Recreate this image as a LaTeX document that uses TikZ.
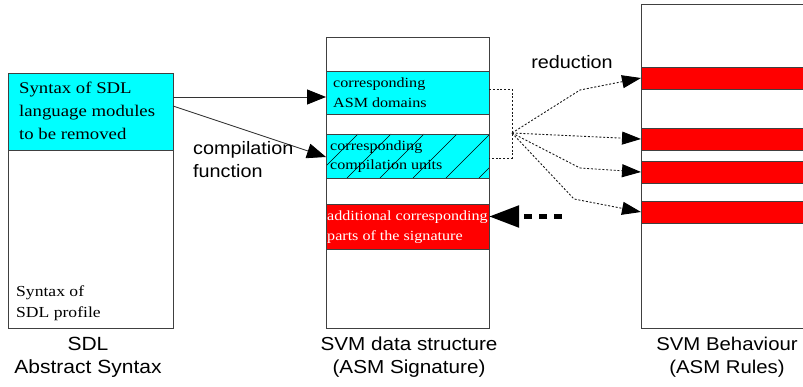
\documentclass[tikz,border=0pt]{standalone}
\usepackage{fontspec}
\setmainfont{Liberation Serif}[FakeStretch=1.15]
\newfontfamily\lblfont{Liberation Sans}[FakeStretch=1.1]
\usetikzlibrary{arrows.meta}
\definecolor{cyanx}{RGB}{0,255,255}
\definecolor{redx}{RGB}{255,0,0}
\begin{document}
\begin{tikzpicture}[x=1pt,y=-1pt,
  box/.style={draw=black!75, line width=0.8pt, inner sep=0pt, outer sep=0pt, anchor=north west},
  cyanbox/.style={box, fill=cyanx},
  redbox/.style={box, fill=redx},
  bigtxt/.style={inner sep=0pt, align=left, anchor=west, font=\fontsize{16.3}{23}\selectfont},
  midtxt/.style={inner sep=0pt, align=left, anchor=west, font=\fontsize{14}{19.5}\selectfont},
  lbl/.style={inner sep=0pt, align=center, font=\lblfont\fontsize{18}{23}\selectfont},
  solidarr/.style={draw=black!80, line width=0.8pt, -{Triangle[length=19pt,width=15pt,color=black,fill=black]}},
  dotline/.style={draw=black!90, line width=0.9pt, dash pattern=on 2pt off 1.8pt},
  dotarr/.style={dotline, -{Triangle[length=19pt,width=13pt,color=black,fill=black]}},
  bigdash/.style={line width=5pt, dash pattern=on 8pt off 7pt, -{Triangle[length=30pt,width=21pt]}}
]
\clip (0,0) rectangle (803,387);
\fill[white] (0,0) rectangle (803,387);

% left column
\node[box, minimum width=165pt, minimum height=255pt] (sdl) at (8,73) {};
\node[cyanbox, minimum width=165pt, minimum height=77pt] (rem) at (8,73) {};
\node[bigtxt] (remtxt) at (19,111) {Syntax of SDL\\language modules\\to be removed};
\node[midtxt, font=\fontsize{15.3}{20.5}\selectfont] (proftxt) at (16,303) {Syntax of\\SDL profile};
\node[lbl, font=\lblfont\fontsize{19.1}{23}\selectfont] (sdllbl) at (88,357.5) {SDL\\Abstract Syntax};

% middle column
\node[box, minimum width=163pt, minimum height=291pt] (svm) at (326,37) {};
\node[cyanbox, minimum width=163pt, minimum height=43pt] (dom) at (326,71) {};
\node[cyanbox, minimum width=163pt, minimum height=44pt] (cu) at (326,134) {};
\begin{scope}
  \clip (cu.south west) rectangle (cu.north east);
  \foreach \x in {314,347,380,413,446,479}
    \draw[line width=0.65pt] (\x,178) -- ++(44,-44);
\end{scope}
\draw[draw=black!75, line width=0.8pt] (cu.south west) rectangle (cu.north east);
\node[redbox, minimum width=163pt, minimum height=45pt] (add) at (326,204) {};
\node[midtxt] (domtxt) at (333,92.5) {corresponding\\ASM domains};
\node[midtxt] (cutxt) at (330,156.5) {corresponding\\compilation units};
\node[midtxt, text=white] (addtxt) at (327,227) {additional corresponding\\parts of the signature};
\node[lbl, font=\lblfont\fontsize{18.8}{23}\selectfont] (svmlbl) at (409,357.5) {SVM data structure\\(ASM Signature)};

% right column
\node[box, minimum width=180pt, minimum height=324pt] (beh) at (641,4) {};
\node[redbox, minimum width=180pt, minimum height=22pt] (b1) at (641,67) {};
\node[redbox, minimum width=180pt, minimum height=22pt] (b2) at (641,128) {};
\node[redbox, minimum width=180pt, minimum height=22pt] (b3) at (641,161) {};
\node[redbox, minimum width=180pt, minimum height=22pt] (b4) at (641,201) {};
\node[lbl, font=\lblfont\fontsize{18.5}{23}\selectfont] (behlbl) at (727,357.5) {SVM Behaviour\\(ASM Rules)};

% compilation arrows
\draw[solidarr] ([yshift=-24pt]rem.north east) -- ([yshift=-26pt]dom.north west);
\draw[solidarr] ([yshift=-33pt]rem.north east) -- ([yshift=-23pt]cu.north west);
\node[lbl, align=left, anchor=west] (complbl) at (193,159.5) {compilation\\function};

% reduction
\coordinate (fan) at (512,133);
\draw[dotline] ([yshift=3.5pt]dom.east) -- ++(23,0) |- ([yshift=-2pt]cu.east);
\draw[dotarr] (fan) -- (580,90) -- (b1.west);
\draw[dotarr] (fan) -- (b2.west);
\draw[dotarr] (fan) -- (580,168) -- (b3.west);
\draw[dotarr] (fan) -- (574,199) -- (b4.west);
\node[lbl] (redlbl) at (572,62) {reduction};

% back arrow
\coordinate (dsrc) at (562,216.5);
\draw[bigdash] (dsrc) -- ([yshift=10pt]add.east);
\end{tikzpicture}
\end{document}
